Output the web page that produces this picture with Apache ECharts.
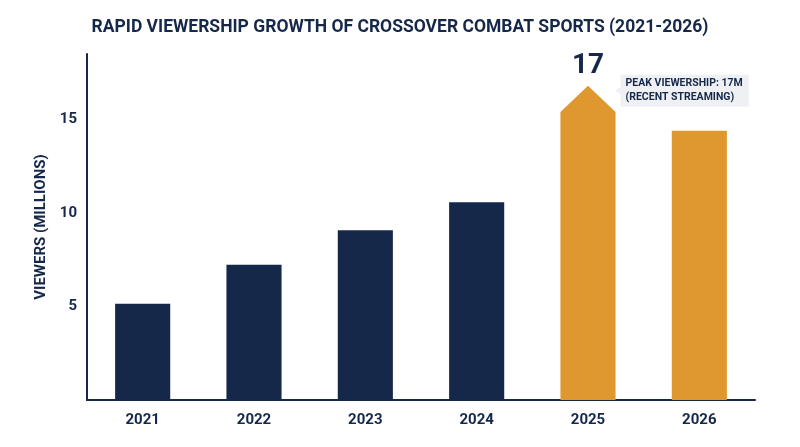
<!DOCTYPE html>
<html>
<head>
<meta charset="utf-8">
<script src="https://cdn.jsdelivr.net/npm/echarts@6/dist/echarts.min.js"></script>
<style>
  html, body { margin: 0; padding: 0; background: #fff; }
  #main { width: 800px; height: 447px; }
</style>
</head>
<body>
<div id="main"></div>
<script>
var years = ['2021', '2022', '2023', '2024', '2025', '2026'];
var viewers = [5.15, 7.23, 9.07, 10.57, 15.4, 14.4];
var peakIndex = 4;
var peakValue = 16.8;
var peakLabel = '17';
var noteText = 'PEAK VIEWERSHIP: 17M\n(RECENT STREAMING)';
var yTicks = [5, 10, 15];

var NAVY = '#16284a';
var GOLD = '#df982f';

var myChart = echarts.init(document.getElementById('main'));

// ordinary bars, the peak year is drawn by the custom series
var barData = viewers.map(function (v, i) {
    if (i === peakIndex) return '-';
    return { value: v, itemStyle: { color: i > peakIndex ? GOLD : NAVY } };
});

var option = {
    backgroundColor: '#fff',
    animation: false,
    title: {
        text: 'RAPID VIEWERSHIP GROWTH OF CROSSOVER COMBAT SPORTS (2021-2026)',
        left: 'center',
        top: 14,
        textStyle: { color: NAVY, fontFamily: 'Roboto', fontWeight: 'bold', fontSize: 17.5 }
    },
    grid: { left: 87, right: 45, top: 54, bottom: 47 },
    xAxis: {
        type: 'category',
        data: years,
        axisLine: { lineStyle: { color: NAVY, width: 2 } },
        axisTick: { show: false },
        axisLabel: { color: NAVY, fontFamily: 'Roboto', fontWeight: 'bold', fontSize: 15, margin: 13 }
    },
    yAxis: {
        type: 'value',
        min: 0,
        max: 18.5,
        interval: 5,
        name: 'VIEWERS (MILLIONS)',
        nameLocation: 'middle',
        nameGap: 30,
        nameTextStyle: { color: NAVY, fontFamily: 'Roboto', fontWeight: 'bold', fontSize: 15 },
        axisLine: { show: true, lineStyle: { color: NAVY, width: 2 } },
        axisTick: { show: false },
        splitLine: { show: false },
        axisLabel: {
            color: NAVY, fontFamily: 'Roboto', fontWeight: 'bold', fontSize: 15, margin: 10,
            formatter: function (v) { return yTicks.indexOf(v) >= 0 ? String(v) : ''; }
        }
    },
    series: [{
        type: 'bar',
        data: barData,
        barWidth: '49.5%'
    }, {
        type: 'custom',
        data: [[peakIndex, viewers[peakIndex], peakValue]],
        encode: { x: 0, y: [1, 2] },
        renderItem: function (params, api) {
            var base = api.coord([api.value(0), 0]);
            var shoulder = api.coord([api.value(0), api.value(1)]);
            var peak = api.coord([api.value(0), api.value(2)]);
            var w = api.size([1, 0])[0] * 0.495;
            var xl = base[0] - w / 2, xr = base[0] + w / 2;
            var boxX = xr + 5, boxY = peak[1] - 11;
            return {
                type: 'group',
                children: [{
                    type: 'polygon',
                    shape: { points: [[xl, base[1]], [xl, shoulder[1]], [base[0], peak[1]], [xr, shoulder[1]], [xr, base[1]]] },
                    style: { fill: GOLD }
                }, {
                    type: 'text',
                    x: base[0],
                    y: peak[1] - 6,
                    style: {
                        text: peakLabel, fill: NAVY, fontFamily: 'Roboto', fontWeight: 'bold', fontSize: 28,
                        align: 'center', verticalAlign: 'bottom'
                    }
                }, {
                    type: 'polygon',
                    shape: { points: [[boxX, boxY + 12], [boxX - 5, boxY + 16], [boxX, boxY + 20]] },
                    style: { fill: '#eef0f3' }
                }, {
                    type: 'text',
                    x: boxX,
                    y: boxY,
                    style: {
                        text: noteText, fill: NAVY, fontFamily: 'Roboto', fontWeight: 'bold', fontSize: 10.5,
                        lineHeight: 14, backgroundColor: '#eef0f3', padding: [2, 6, 2, 5],
                        align: 'left', verticalAlign: 'top'
                    }
                }]
            };
        }
    }]
};

myChart.setOption(option);
</script>
</body>
</html>
